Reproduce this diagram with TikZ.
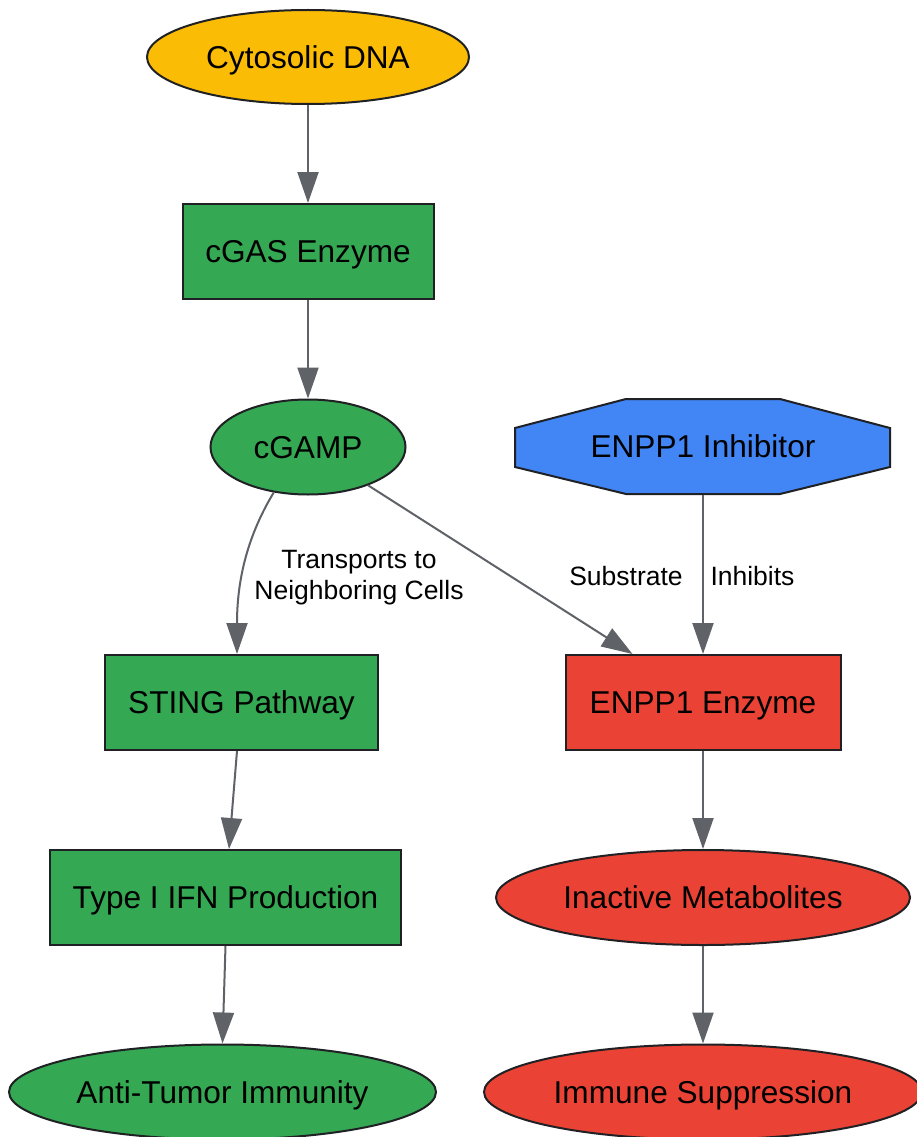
\documentclass[tikz,border=0pt]{standalone}
\usepackage{fontspec}
\setmainfont{Liberation Sans}
\usetikzlibrary{shapes.geometric,arrows.meta}
\definecolor{cyel}{HTML}{FBBC05}
\definecolor{cgrn}{HTML}{34A853}
\definecolor{cred}{HTML}{EA4335}
\definecolor{cblu}{HTML}{4285F4}
\definecolor{cedge}{HTML}{5F6368}
\definecolor{cline}{HTML}{202124}
\tikzset{
  base/.style={draw=cline, line width=2pt, inner sep=0pt, font=\fontsize{31.6}{36}\selectfont, text=black, text depth=0pt},
  oval/.style={base, ellipse},
  box/.style={base, rectangle},
  conn/.style={draw=cedge, line width=2pt, -{Triangle[length=31pt,width=21pt]}},
  elabel/.style={font=\fontsize{26.5}{31}\selectfont, align=center, text=black, inner sep=0pt}
}
\begin{document}
\begin{tikzpicture}[x=1pt,y=-1pt]
\useasboundingbox (0,0) rectangle (916,1137);
\fill[white] (0,0) rectangle (916,1137);
% nodes
\node[oval, fill=cyel, minimum width=322pt, minimum height=94pt] (dna) at (308,57) {Cytosolic DNA};
\node[box, fill=cgrn, minimum width=251pt, minimum height=95pt] (cgas) at (308,251.5) {cGAS Enzyme};
\node[oval, fill=cgrn, minimum width=195pt, minimum height=95pt] (cgamp) at (308,447) {cGAMP};
\draw[draw=cline, fill=cblu, line width=2pt] (626,399) -- (780,399) -- (890,428) -- (890,467) -- (780,494) -- (626,494) -- (515,467) -- (515,428) -- cycle;
\node[base, draw=none, minimum width=375pt, minimum height=95pt] (inh) at (703,446.5) {ENPP1 Inhibitor};
\node[box, fill=cgrn, minimum width=273pt, minimum height=95pt] (sting) at (241.5,702.5) {STING Pathway};
\node[box, fill=cred, minimum width=275pt, minimum height=95pt] (enz) at (703,702.5) {ENPP1 Enzyme};
\node[box, fill=cgrn, minimum width=351pt, minimum height=95pt] (ifn) at (225.5,897.5) {Type I IFN Production};
\node[oval, fill=cred, minimum width=414pt, minimum height=95pt] (inact) at (703,897.5) {Inactive Metabolites};
\node[oval, fill=cgrn, minimum width=427pt, minimum height=95pt] (anti) at (222.5,1092) {Anti-Tumor Immunity};
\node[oval, fill=cred, minimum width=438pt, minimum height=95pt] (supp) at (703,1092) {Immune Suppression};
% connectors
\draw[conn] (dna) -- (cgas);
\draw[conn] (cgas) -- (cgamp);
\draw[conn] (cgamp.233) .. controls (245,540) and (237,585) .. ([xshift=-4.5pt]sting.north);
\draw[conn] (cgamp) -- ([xshift=-70.5pt]enz.north);
\draw[conn] (inh.south) -- (enz.north);
\draw[conn] ([xshift=-4.5pt]sting.south) -- ([xshift=3.5pt]ifn.north);
\draw[conn] (ifn.south) -- (anti.north);
\draw[conn] (enz) -- (inact);
\draw[conn] (inact) -- (supp);
% labels
\node[elabel] (l1) at (359,578) {Transports to\\Neighboring Cells};
\node[elabel] (l2) at (626,576) {Substrate};
\node[elabel] (l3) at (752.5,576) {Inhibits};
\end{tikzpicture}
\end{document}
